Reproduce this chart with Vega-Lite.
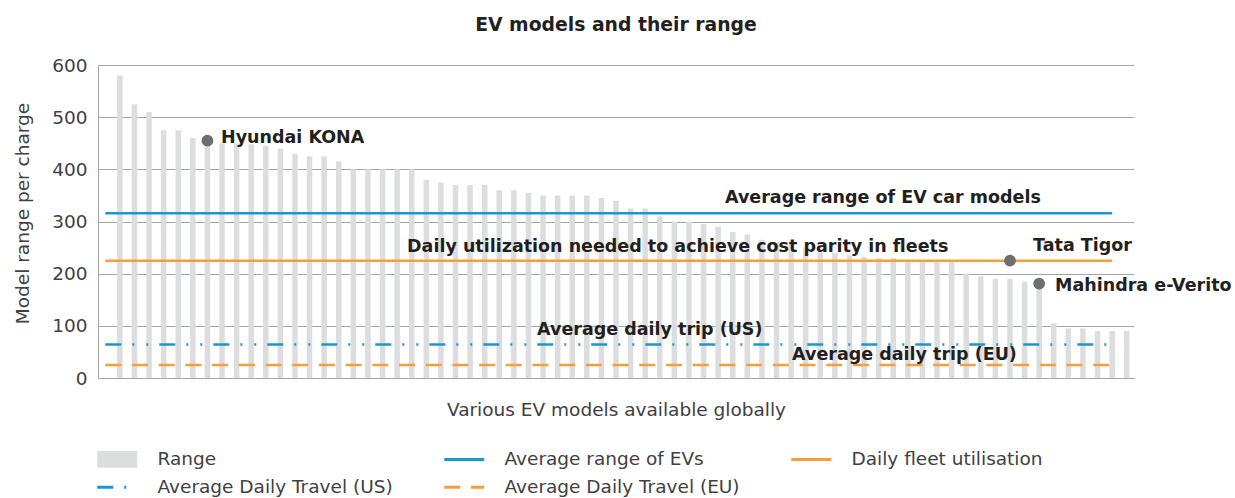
{
  "$schema": "https://vega.github.io/schema/vega-lite/v6.json",
  "width": 1036,
  "height": 313,
  "autosize": {"type": "none"},
  "padding": {"left": 98, "top": 65, "right": 101, "bottom": 120},
  "background": "white",
  "title": {"text": "EV models and their range", "fontSize": 18.8, "fontWeight": "bold", "color": "#231F20", "offset": 21, "anchor": "middle"},
  "datasets": {
    "models": [
      {"i": 0, "avg": 316, "fleet": 225, "us": 64, "eu": 25},
      {"i": 1, "range": 580, "avg": 316, "fleet": 225, "us": 64, "eu": 25},
      {"i": 2, "range": 525, "avg": 316, "fleet": 225, "us": 64, "eu": 25},
      {"i": 3, "range": 510, "avg": 316, "fleet": 225, "us": 64, "eu": 25},
      {"i": 4, "range": 475, "avg": 316, "fleet": 225, "us": 64, "eu": 25},
      {"i": 5, "range": 475, "avg": 316, "fleet": 225, "us": 64, "eu": 25},
      {"i": 6, "range": 460, "avg": 316, "fleet": 225, "us": 64, "eu": 25},
      {"i": 7, "range": 455, "avg": 316, "fleet": 225, "us": 64, "eu": 25, "marker": 455, "model": "Hyundai KONA"},
      {"i": 8, "range": 450, "avg": 316, "fleet": 225, "us": 64, "eu": 25},
      {"i": 9, "range": 450, "avg": 316, "fleet": 225, "us": 64, "eu": 25},
      {"i": 10, "range": 448, "avg": 316, "fleet": 225, "us": 64, "eu": 25},
      {"i": 11, "range": 445, "avg": 316, "fleet": 225, "us": 64, "eu": 25},
      {"i": 12, "range": 440, "avg": 316, "fleet": 225, "us": 64, "eu": 25},
      {"i": 13, "range": 430, "avg": 316, "fleet": 225, "us": 64, "eu": 25},
      {"i": 14, "range": 425, "avg": 316, "fleet": 225, "us": 64, "eu": 25},
      {"i": 15, "range": 425, "avg": 316, "fleet": 225, "us": 64, "eu": 25},
      {"i": 16, "range": 415, "avg": 316, "fleet": 225, "us": 64, "eu": 25},
      {"i": 17, "range": 400, "avg": 316, "fleet": 225, "us": 64, "eu": 25},
      {"i": 18, "range": 400, "avg": 316, "fleet": 225, "us": 64, "eu": 25},
      {"i": 19, "range": 400, "avg": 316, "fleet": 225, "us": 64, "eu": 25},
      {"i": 20, "range": 400, "avg": 316, "fleet": 225, "us": 64, "eu": 25},
      {"i": 21, "range": 400, "avg": 316, "fleet": 225, "us": 64, "eu": 25},
      {"i": 22, "range": 380, "avg": 316, "fleet": 225, "us": 64, "eu": 25},
      {"i": 23, "range": 375, "avg": 316, "fleet": 225, "us": 64, "eu": 25},
      {"i": 24, "range": 370, "avg": 316, "fleet": 225, "us": 64, "eu": 25},
      {"i": 25, "range": 370, "avg": 316, "fleet": 225, "us": 64, "eu": 25},
      {"i": 26, "range": 370, "avg": 316, "fleet": 225, "us": 64, "eu": 25},
      {"i": 27, "range": 360, "avg": 316, "fleet": 225, "us": 64, "eu": 25},
      {"i": 28, "range": 360, "avg": 316, "fleet": 225, "us": 64, "eu": 25},
      {"i": 29, "range": 355, "avg": 316, "fleet": 225, "us": 64, "eu": 25},
      {"i": 30, "range": 350, "avg": 316, "fleet": 225, "us": 64, "eu": 25},
      {"i": 31, "range": 350, "avg": 316, "fleet": 225, "us": 64, "eu": 25},
      {"i": 32, "range": 350, "avg": 316, "fleet": 225, "us": 64, "eu": 25},
      {"i": 33, "range": 350, "avg": 316, "fleet": 225, "us": 64, "eu": 25},
      {"i": 34, "range": 345, "avg": 316, "fleet": 225, "us": 64, "eu": 25},
      {"i": 35, "range": 340, "avg": 316, "fleet": 225, "us": 64, "eu": 25},
      {"i": 36, "range": 325, "avg": 316, "fleet": 225, "us": 64, "eu": 25},
      {"i": 37, "range": 325, "avg": 316, "fleet": 225, "us": 64, "eu": 25},
      {"i": 38, "range": 310, "avg": 316, "fleet": 225, "us": 64, "eu": 25},
      {"i": 39, "range": 300, "avg": 316, "fleet": 225, "us": 64, "eu": 25},
      {"i": 40, "range": 300, "avg": 316, "fleet": 225, "us": 64, "eu": 25},
      {"i": 41, "range": 295, "avg": 316, "fleet": 225, "us": 64, "eu": 25},
      {"i": 42, "range": 290, "avg": 316, "fleet": 225, "us": 64, "eu": 25},
      {"i": 43, "range": 280, "avg": 316, "fleet": 225, "us": 64, "eu": 25},
      {"i": 44, "range": 275, "avg": 316, "fleet": 225, "us": 64, "eu": 25},
      {"i": 45, "range": 265, "avg": 316, "fleet": 225, "us": 64, "eu": 25},
      {"i": 46, "range": 260, "avg": 316, "fleet": 225, "us": 64, "eu": 25},
      {"i": 47, "range": 255, "avg": 316, "fleet": 225, "us": 64, "eu": 25},
      {"i": 48, "range": 250, "avg": 316, "fleet": 225, "us": 64, "eu": 25},
      {"i": 49, "range": 245, "avg": 316, "fleet": 225, "us": 64, "eu": 25},
      {"i": 50, "range": 240, "avg": 316, "fleet": 225, "us": 64, "eu": 25},
      {"i": 51, "range": 235, "avg": 316, "fleet": 225, "us": 64, "eu": 25},
      {"i": 52, "range": 232, "avg": 316, "fleet": 225, "us": 64, "eu": 25},
      {"i": 53, "range": 230, "avg": 316, "fleet": 225, "us": 64, "eu": 25},
      {"i": 54, "range": 230, "avg": 316, "fleet": 225, "us": 64, "eu": 25},
      {"i": 55, "range": 225, "avg": 316, "fleet": 225, "us": 64, "eu": 25},
      {"i": 56, "range": 225, "avg": 316, "fleet": 225, "us": 64, "eu": 25},
      {"i": 57, "range": 225, "avg": 316, "fleet": 225, "us": 64, "eu": 25},
      {"i": 58, "range": 225, "avg": 316, "fleet": 225, "us": 64, "eu": 25},
      {"i": 59, "range": 200, "avg": 316, "fleet": 225, "us": 64, "eu": 25},
      {"i": 60, "range": 195, "avg": 316, "fleet": 225, "us": 64, "eu": 25},
      {"i": 61, "range": 190, "avg": 316, "fleet": 225, "us": 64, "eu": 25},
      {"i": 62, "range": 190, "avg": 316, "fleet": 225, "us": 64, "eu": 25, "marker": 225, "model": "Tata Tigor"},
      {"i": 63, "range": 185, "avg": 316, "fleet": 225, "us": 64, "eu": 25},
      {"i": 64, "range": 181, "avg": 316, "fleet": 225, "us": 64, "eu": 25, "marker": 181, "model": "Mahindra e-Verito"},
      {"i": 65, "range": 105, "avg": 316, "fleet": 225, "us": 64, "eu": 25},
      {"i": 66, "range": 95, "avg": 316, "fleet": 225, "us": 64, "eu": 25},
      {"i": 67, "range": 95, "avg": 316, "fleet": 225, "us": 64, "eu": 25},
      {"i": 68, "range": 90, "avg": 316, "fleet": 225, "us": 64, "eu": 25},
      {"i": 69, "range": 90, "avg": 316, "fleet": 225, "us": 64, "eu": 25},
      {"i": 70, "range": 90}
    ],
    "annotations": [
      {"note": "Hyundai KONA", "i": 7.93, "km": 460.7},
      {"note": "Average range of EV car models", "i": 42.47, "km": 346},
      {"note": "Daily utilization needed to achieve cost parity in fleets", "i": 20.68, "km": 250.7},
      {"note": "Tata Tigor", "i": 63.58, "km": 252.6},
      {"note": "Mahindra e-Verito", "i": 65.09, "km": 176.2},
      {"note": "Average daily trip (US)", "i": 29.59, "km": 92.3},
      {"note": "Average daily trip (EU)", "i": 47.07, "km": 44.5}
    ]
  },
  "data": {"name": "models"},
  "layer": [
    {
      "transform": [
        {"fold": ["range"], "as": ["series", "km"]},
        {"filter": "isValid(datum.km)"}
      ],
      "mark": {"type": "bar", "size": 5.5},
      "encoding": {
        "x": {"field": "i", "type": "quantitative", "title": "Various EV models available globally",
              "scale": {"domain": [-0.5, 70.5], "nice": false, "zero": false, "padding": 0}},
        "y": {"field": "km", "type": "quantitative", "title": "Model range per charge",
              "scale": {"domain": [0, 600], "nice": false}},
        "color": {"field": "series", "type": "nominal",
                  "scale": {"domain": ["range", "avg", "fleet", "us", "eu"],
                            "range": ["#DCDDDE", "#1A97D0", "#F89D3A", "#1A97D0", "#F89D3A"]},
                  "legend": {
                    "orient": "none", "legendX": 10, "legendY": 385, "columns": 3, "direction": "horizontal", "title": null,
                    "symbolType": "stroke", "symbolSize": 1600, "symbolStrokeWidth": 3,
                    "labelFontSize": 18.5, "labelColor": "#414042", "labelOffset": 31, "labelLimit": 400,
                    "columnPadding": 45, "rowPadding": 9,
                    "labelExpr": "datum.label == 'range' ? 'Range' : datum.label == 'avg' ? 'Average range of EVs' : datum.label == 'fleet' ? 'Daily fleet utilisation' : datum.label == 'us' ? 'Average Daily Travel (US)' : 'Average Daily Travel (EU)'",
                    "encode": {"symbols": {"update": {
                      "shape": {"signal": "datum.value === 'range' ? 'M-1,-0.42H1V0.42H-1Z' : 'stroke'"},
                      "stroke": {"signal": "datum.value === 'range' ? 'transparent' : scale('color', datum.value)"},
                      "strokeDash": {"scale": "strokeDash", "field": "value"},
                      "strokeWidth": {"signal": "datum.value === 'range' ? 0 : 3"},
                      "fill": {"signal": "datum.value === 'range' ? '#DCDDDE' : 'transparent'"},
                      "opacity": {"value": 1}
                    }}}
                  }},
        "strokeDash": {"field": "series", "type": "nominal",
                  "scale": {"domain": ["range", "avg", "fleet", "us", "eu"],
                            "range": [[1, 0], [1, 0], [1, 0], [16, 11, 2, 12, 2, 11], [16, 10.7]]},
                  "legend": null}
      }
    },
    {
      "transform": [
        {"fold": ["avg", "fleet", "us", "eu"], "as": ["series", "km"]},
        {"filter": "isValid(datum.km)"}
      ],
      "mark": {"type": "line", "strokeWidth": 2.5},
      "encoding": {
        "x": {"field": "i", "type": "quantitative", "title": "Various EV models available globally"},
        "y": {"field": "km", "type": "quantitative", "title": "Model range per charge"},
        "color": {"field": "series", "type": "nominal"},
        "strokeDash": {"field": "series", "type": "nominal", "legend": null}
      }
    },
    {
      "transform": [{"filter": "isValid(datum.marker)"}],
      "mark": {"type": "point", "filled": true, "size": 140, "color": "#6D6E70", "opacity": 1},
      "encoding": {
        "x": {"field": "i", "type": "quantitative", "title": "Various EV models available globally"},
        "y": {"field": "marker", "type": "quantitative", "title": "Model range per charge"}
      }
    },
    {
      "data": {"name": "annotations"},
      "mark": {"type": "text", "align": "left", "baseline": "middle", "fontSize": 17.5, "fontWeight": "bold", "color": "#231F20"},
      "encoding": {
        "x": {"field": "i", "type": "quantitative", "title": "Various EV models available globally"},
        "y": {"field": "km", "type": "quantitative", "title": "Model range per charge"},
        "text": {"field": "note"}
      }
    }
  ],
  "config": {
    "font": "DejaVu Sans",
    "view": {"stroke": null},
    "axis": {
      "labelFontSize": 18.5, "titleFontSize": 18.5, "titleFontWeight": "normal",
      "labelColor": "#414042", "titleColor": "#414042",
      "domainColor": "#A6A6A6", "gridColor": "#A6A6A6", "ticks": false
    },
    "axisX": {"grid": false, "labels": false, "domain": true, "titleX": 518, "titleY": 31, "titleBaseline": "middle", "titleAlign": "center"},
    "axisY": {"grid": true, "tickCount": 6, "labelPadding": 11, "titleX": -76, "titleY": 148, "titleBaseline": "middle", "titleAlign": "center", "titleAngle": -90}
  }
}
